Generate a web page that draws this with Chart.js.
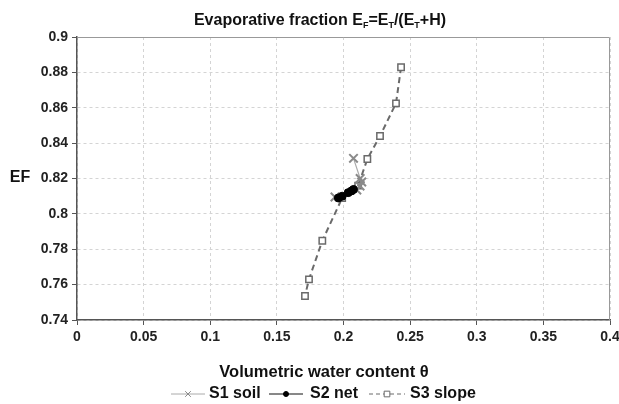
<!DOCTYPE html>
<html>
<head>
<meta charset="utf-8">
<script src="https://cdn.jsdelivr.net/npm/chart.js@4.4.0/dist/chart.umd.min.js"></script>
<style>
  html, body { margin: 0; padding: 0; background: #fff; }
  #wrap { width: 619px; height: 404px; }
</style>
</head>
<body>
<div id="wrap"><canvas id="efChart" width="619" height="404"></canvas></div>
<script>
// values (x = volumetric water content, y = EF)
const xTicks = [0, 0.05, 0.1, 0.15, 0.2, 0.25, 0.3, 0.35, 0.4];
const yTicks = [0.74, 0.76, 0.78, 0.8, 0.82, 0.84, 0.86, 0.88, 0.9];

const s1Theta = [0.2075, 0.2125, 0.2137, 0.2124, 0.2100, 0.1936];
const s1EF    = [0.8314, 0.8200, 0.8180, 0.8158, 0.8135, 0.8095];

const s2Theta = [0.1961, 0.1990, 0.2035, 0.2060, 0.2075];
const s2EF    = [0.8090, 0.8100, 0.8120, 0.8130, 0.8138];

const s3Theta = [0.2432, 0.2394, 0.2274, 0.2179, 0.2110, 0.1990, 0.1841, 0.1741, 0.1711];
const s3EF    = [0.8829, 0.8625, 0.8440, 0.8310, 0.8160, 0.8090, 0.7848, 0.7630, 0.7536];

const seriesNames = ['S1 soil', 'S2 net', 'S3 slope'];

function pts(xs, ys) {
  return xs.map((x, i) => ({x: x, y: ys[i]}));
}

const FONT = '"Liberation Sans", Arial, sans-serif';
const fmt = v => String(+Number(v).toFixed(2));

// title, axis titles, frame and legend drawn on the canvas
const extras = {
  id: 'extras',
  beforeDatasetsDraw(chart) {
    const {ctx, chartArea: a} = chart;
    ctx.save();
    ctx.strokeStyle = '#999';
    ctx.lineWidth = 1;
    ctx.beginPath();
    ctx.moveTo(a.left, a.top + 0.5);
    ctx.lineTo(a.right - 0.5, a.top + 0.5);
    ctx.lineTo(a.right - 0.5, a.bottom);
    ctx.stroke();
    ctx.restore();
  },
  afterDraw(chart) {
    const ctx = chart.ctx;
    ctx.save();
    ctx.fillStyle = '#111';
    ctx.textBaseline = 'alphabetic';

    // title with subscripts
    const big = 'bold 16px ' + FONT, small = 'bold 9px ' + FONT;
    const parts = [
      ['Evaporative fraction E', big, 0], ['F', small, 3], ['=E', big, 0],
      ['T', small, 3], ['/(E', big, 0], ['T', small, 3], ['+H)', big, 0]
    ];
    let w = 0;
    parts.forEach(p => { ctx.font = p[1]; w += ctx.measureText(p[0]).width; });
    let x = 320 - w / 2;
    ctx.textAlign = 'left';
    parts.forEach(p => {
      ctx.font = p[1];
      ctx.fillText(p[0], x, 25 + p[2]);
      x += ctx.measureText(p[0]).width;
    });

    // y title
    ctx.font = 'bold 16px ' + FONT;
    ctx.textAlign = 'center';
    ctx.textBaseline = 'middle';
    ctx.fillText('EF', 20, 178);

    // x title
    ctx.font = 'bold 16.5px ' + FONT;
    ctx.fillText('Volumetric water content \u03b8', 324, 372);

    // legend
    const ly = 394;
    ctx.font = 'bold 16px ' + FONT;
    ctx.textAlign = 'left';
    const items = [
      {x0: 171, x1: 205, tx: 209},
      {x0: 269, x1: 303, tx: 310},
      {x0: 369, x1: 405, tx: 410}
    ];
    chart.data.datasets.forEach((ds, i) => {
      const it = items[i];
      ctx.save();
      ctx.strokeStyle = ds.borderColor;
      ctx.lineWidth = 1;
      ctx.setLineDash(ds.borderDash ? [4, 3] : []);
      ctx.beginPath();
      ctx.moveTo(it.x0, ly);
      ctx.lineTo(it.x1, ly);
      ctx.stroke();
      ctx.setLineDash([]);
      ctx.fillStyle = ds.pointBackgroundColor;
      ctx.strokeStyle = ds.pointBorderColor;
      Chart.helpers.drawPoint(ctx, {
        pointStyle: ds.pointStyle,
        radius: ds.pointStyle === 'circle' ? 2.5 : 4,
        borderWidth: 1,
        rotation: 0
      }, (it.x0 + it.x1) / 2, ly);
      ctx.restore();
      ctx.fillStyle = '#111';
      ctx.fillText(seriesNames[i], it.tx, ly);
    });
    ctx.restore();
  }
};

const ctxEl = document.getElementById('efChart');
const efChart = new Chart(ctxEl, {
  type: 'scatter',
  data: {
    datasets: [{
      label: seriesNames[0],
      data: pts(s1Theta, s1EF),
      showLine: true,
      borderColor: '#aaaaaa',
      borderWidth: 1.2,
      pointStyle: 'crossRot',
      pointRadius: 6,
      pointBackgroundColor: '#8a8a8a',
      pointBorderColor: '#8a8a8a',
      pointBorderWidth: 2,
      order: 1
    }, {
      label: seriesNames[1],
      data: pts(s2Theta, s2EF),
      showLine: true,
      borderColor: '#111111',
      borderWidth: 1.2,
      pointStyle: 'circle',
      pointRadius: 4,
      pointBackgroundColor: '#000',
      pointBorderColor: '#000',
      pointBorderWidth: 1,
      order: 0
    }, {
      label: seriesNames[2],
      data: pts(s3Theta, s3EF),
      showLine: true,
      borderColor: '#6a6a6a',
      borderWidth: 2,
      borderDash: [6, 4],
      pointStyle: 'rect',
      pointRadius: 4.5,
      pointBackgroundColor: '#ffffff',
      pointBorderColor: '#6a6a6a',
      pointBorderWidth: 1.5,
      order: 2
    }]
  },
  options: {
    responsive: false,
    animation: false,
    layout: { padding: { top: 37, right: 9, left: 0, bottom: 0 } },
    plugins: { legend: { display: false }, title: { display: false }, tooltip: { enabled: false } },
    scales: {
      x: {
        type: 'linear',
        min: 0, max: 0.4,
        afterBuildTicks: s => { s.ticks = xTicks.map(v => ({value: v})); },
        ticks: { font: { family: FONT, size: 14, weight: 'bold' }, color: '#222', padding: 4, maxRotation: 0, callback: fmt },
        grid: { color: '#d4d4d4', lineWidth: 1, tickLength: 5, tickColor: '#555' },
        border: { color: '#555', width: 1.5, dash: [3, 3] },
        afterFit: s => { s.height = 84; s.paddingLeft = 0; s.paddingRight = 0; }
      },
      y: {
        type: 'linear',
        min: 0.74, max: 0.9,
        afterBuildTicks: s => { s.ticks = yTicks.map(v => ({value: v})); },
        ticks: { font: { family: FONT, size: 14, weight: 'bold' }, color: '#222', padding: 4, callback: fmt },
        grid: { color: '#d4d4d4', lineWidth: 1, tickLength: 5, tickColor: '#555' },
        border: { color: '#555', width: 1.5, dash: [3, 3] },
        afterFit: s => { s.width = 77; s.paddingTop = 0; s.paddingBottom = 0; }
      }
    }
  },
  plugins: [extras]
});
</script>
</body>
</html>
